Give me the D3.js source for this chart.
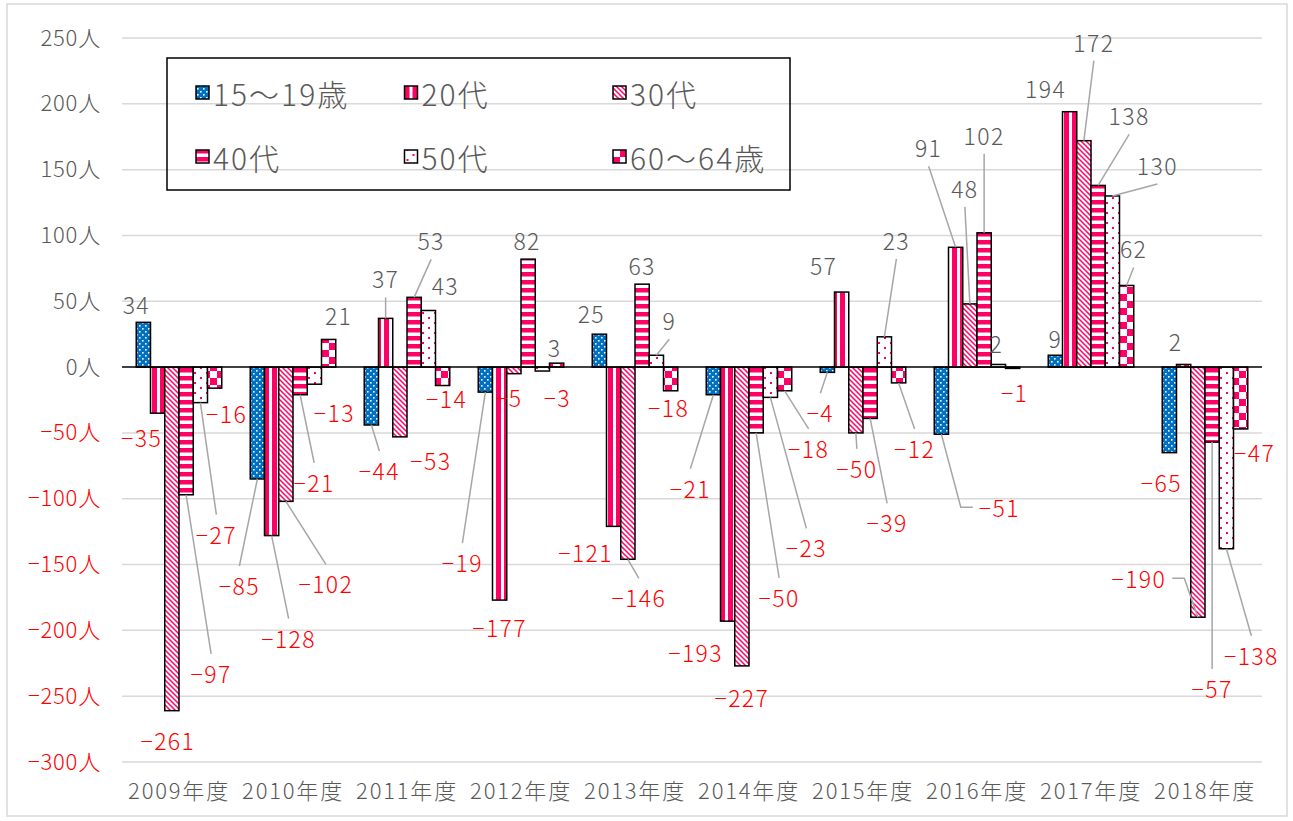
<!DOCTYPE html>
<html>
<head>
<meta charset="utf-8">
<script src="https://cdn.jsdelivr.net/npm/d3@7"></script>
<style>
  body { margin: 0; background: #fff; }
  text { font-family: "Noto Sans CJK JP", "Noto Sans", sans-serif; font-weight: 300; }
</style>
</head>
<body>
<div id="chart"></div>
<script>
// categories
var years = ["2009年度", "2010年度", "2011年度", "2012年度", "2013年度",
             "2014年度", "2015年度", "2016年度", "2017年度", "2018年度"];
var seriesNames = ["15～19歳", "20代", "30代", "40代", "50代", "60～64歳"];

// series values (persons, by fiscal year)
var age15to19 = [34, -85, -44, -19, 25, -21, -4, -51, 9, -65];
var age20s    = [-35, -128, 37, -177, -121, -193, 57, 91, 194, 2];
var age30s    = [-261, -102, -53, -5, -146, -227, -50, 48, 172, -190];
var age40s    = [-97, -21, 53, 82, 63, -50, -39, 102, 138, -57];
var age50s    = [-27, -13, 43, -3, 9, -23, 23, 2, 130, -138];
var age60to64 = [-16, 21, -14, 3, -18, -18, -12, -1, 62, -47];

var yTicks = [-300, -250, -200, -150, -100, -50, 0, 50, 100, 150, 200, 250];

// label placement: [dx, dy, leader] from the bar end, per year, per series
var labelLayout = [
	[[-7,-18,0], [-18,106,1], [8,45,1], [-23,170,1], [-8,-21,0], [-23,93,1], [-7,40,1], [58,73,1], [0,-17,0], [-8,29,0]],
	[[-16,24,0], [17,102,1], [0,-40,1], [0,27,0], [-28,26,0], [-32,31,0], [-18,-27,0], [-27,-100,1], [-24,-24,0], [-8,-23,0]],
	[[-4,29,0], [40,82,1], [31,23,0], [-5,23,0], [11,38,1], [0,31,0], [1,35,1], [-5,-116,1], [10,-99,1], [-59,-39,1]],
	[[25,178,1], [14,87,1], [17,-57,1], [-1,-19,0], [0,-19,0], [23,164,1], [17,104,1], [0,-98,1], [31,-70,1], [0,246,1]],
	[[16,131,1], [20,28,0], [17,-25,0], [15,26,0], [13,-35,1], [36,150,1], [12,-97,1], [-2,-21,0], [45,-31,1], [25,106,1]],
	[[12,25,0], [10,-24,0], [4,12,0], [-2,-16,0], [-2,16,0], [24,57,1], [16,65,1], [2,24,0], [7,-37,1], [14,23,0]]
];

var seriesValues = [age15to19, age20s, age30s, age40s, age50s, age60to64];

var width = 1293, height = 821;
var pink = "#FF0066", blue = "#0070C0", grey = "#595959", red = "#FF0000";

var svg = d3.select("#chart").append("svg")
	.attr("width", width)
	.attr("height", height);

// patterns
var defs = svg.append("defs");

var p0 = defs.append("pattern").attr("id", "pat0").attr("patternUnits", "userSpaceOnUse")
	.attr("width", 6).attr("height", 6);
p0.append("rect").attr("width", 6).attr("height", 6).attr("fill", blue);
p0.append("rect").attr("x", 1).attr("y", 1).attr("width", 1.6).attr("height", 1.6).attr("fill", "#fff");
p0.append("rect").attr("x", 4).attr("y", 4).attr("width", 1.6).attr("height", 1.6).attr("fill", "#fff");

var p1 = defs.append("pattern").attr("id", "pat1").attr("patternUnits", "userSpaceOnUse")
	.attr("width", 8).attr("height", 8);
p1.append("rect").attr("width", 8).attr("height", 8).attr("fill", "#fff");
p1.append("rect").attr("x", 0).attr("width", 5).attr("height", 8).attr("fill", pink);

var p2 = defs.append("pattern").attr("id", "pat2").attr("patternUnits", "userSpaceOnUse")
	.attr("width", 5).attr("height", 5);
p2.append("rect").attr("width", 5).attr("height", 5).attr("fill", "#fff");
p2.append("path").attr("d", "M-1,-1L6,6M-1,4L1,6M4,-1L6,1")
	.attr("stroke", pink).attr("stroke-width", 1.5);

var p3 = defs.append("pattern").attr("id", "pat3").attr("patternUnits", "userSpaceOnUse")
	.attr("width", 8).attr("height", 8);
p3.append("rect").attr("width", 8).attr("height", 8).attr("fill", "#fff");
p3.append("rect").attr("y", 0).attr("width", 8).attr("height", 4.5).attr("fill", pink);

var p4 = defs.append("pattern").attr("id", "pat4").attr("patternUnits", "userSpaceOnUse")
	.attr("width", 12).attr("height", 10);
p4.append("rect").attr("width", 12).attr("height", 10).attr("fill", "#fff");
p4.append("rect").attr("x", 2).attr("y", 2).attr("width", 2).attr("height", 2).attr("fill", pink);
p4.append("rect").attr("x", 8).attr("y", 7).attr("width", 2).attr("height", 2).attr("fill", pink);

var p5 = defs.append("pattern").attr("id", "pat5").attr("patternUnits", "userSpaceOnUse")
	.attr("width", 14).attr("height", 14);
p5.append("rect").attr("width", 14).attr("height", 14).attr("fill", "#fff");
p5.append("rect").attr("width", 7).attr("height", 7).attr("fill", pink);
p5.append("rect").attr("x", 7).attr("y", 7).attr("width", 7).attr("height", 7).attr("fill", pink);

// outer frame
svg.append("rect")
	.attr("x", 7).attr("y", 4).attr("width", 1280).attr("height", 812)
	.attr("fill", "none").attr("stroke", "#D9D9D9").attr("stroke-width", 1.5);

// scales
var x0 = d3.scaleBand().domain(years).range([122, 1262]).paddingInner(0.25).paddingOuter(0.125);
var x1 = d3.scaleBand().domain(d3.range(seriesNames.length)).range([0, x0.bandwidth()]);
var y = d3.scaleLinear().domain([-300, 250]).range([762, 38]);

// gridlines
svg.append("g").selectAll("line")
	.data(yTicks.filter(function(d) { return d !== 0; }))
	.enter().append("line")
	.attr("x1", 122).attr("x2", 1262)
	.attr("y1", function(d) { return y(d); })
	.attr("y2", function(d) { return y(d); })
	.attr("stroke", "#D9D9D9").attr("stroke-width", 1.5);

// y axis labels
var yAxis = svg.append("g")
	.attr("transform", "translate(122,0)")
	.call(d3.axisLeft(y).tickValues(yTicks).tickSize(0).tickPadding(21)
		.tickFormat(function(d) { return (d < 0 ? "−" + (-d) : d) + "人"; }));
yAxis.select(".domain").remove();
yAxis.selectAll(".tick text")
	.attr("font-size", 22)
	.attr("font-family", null)
	.attr("letter-spacing", 0.8)
	.attr("fill", function(d) { return d < 0 ? red : grey; });

// x axis labels
var xAxis = svg.append("g")
	.attr("transform", "translate(0," + y(-300) + ")")
	.call(d3.axisBottom(x0).tickSize(0).tickPadding(21));
xAxis.select(".domain").remove();
xAxis.selectAll(".tick text")
	.attr("font-size", 22)
	.attr("font-family", null)
	.attr("letter-spacing", 1.8)
	.attr("fill", grey);

// bars
var rows = [];
seriesValues.forEach(function(vals, s) {
	vals.forEach(function(v, i) {
		rows.push({s: s, year: years[i], i: i, value: v});
	});
});

svg.append("g").selectAll(".bar")
	.data(rows)
	.enter().append("rect")
	.attr("class", "bar")
	.attr("x", function(d) { return x0(d.year) + x1(d.s); })
	.attr("width", x1.bandwidth())
	.attr("y", function(d) { return y(Math.max(0, d.value)); })
	.attr("height", function(d) { return Math.abs(y(d.value) - y(0)); })
	.attr("fill", function(d) { return "url(#pat" + d.s + ")"; })
	.attr("stroke", "#000").attr("stroke-width", 1.5);

// zero line
svg.append("line")
	.attr("x1", 122).attr("x2", 1262)
	.attr("y1", y(0)).attr("y2", y(0))
	.attr("stroke", "#000").attr("stroke-width", 1.5);

// data labels with leader lines
var leaderG = svg.append("g");
var labelG = svg.append("g");

rows.forEach(function(d) {
	var lay = labelLayout[d.s][d.i];
	var ax = x0(d.year) + x1(d.s) + x1.bandwidth() / 2;
	var ay = y(d.value);
	var lx = ax + lay[0], ly = ay + lay[1];
	var t = labelG.append("text")
		.attr("x", lx).attr("y", ly)
		.attr("text-anchor", "middle")
		.attr("dominant-baseline", "central")
		.attr("font-size", 23)
		.attr("letter-spacing", 1.4)
		.attr("fill", d.value < 0 ? red : grey)
		.text(d.value < 0 ? "−" + (-d.value) : d.value);
	if (!lay[2]) return;
	var hw = t.node().getComputedTextLength() / 2;
	var pts;
	if (ax < lx - hw - 30 || ax > lx + hw + 30) {
		var side = ax < lx ? -1 : 1;
		pts = [[ax, ay], [lx + side * (hw + 18), ly], [lx + side * (hw + 6), ly]];
	} else {
		var ey = ay < ly ? ly - 19 : ly + 19;
		pts = [[ax, ay], [lx, ey]];
	}
	leaderG.append("path")
		.attr("d", d3.line()(pts))
		.attr("fill", "none")
		.attr("stroke", "#A6A6A6").attr("stroke-width", 1.5);
});

// legend
var legend = svg.append("g");
legend.append("rect")
	.attr("x", 167).attr("y", 58).attr("width", 623).attr("height", 132)
	.attr("fill", "none").attr("stroke", "#000").attr("stroke-width", 1.5);

var item = legend.selectAll(".item")
	.data(seriesNames)
	.enter().append("g")
	.attr("transform", function(d, i) {
		return "translate(" + (196 + (i % 3) * 208.5) + "," + (93 + Math.floor(i / 3) * 64) + ")";
	});
item.append("rect")
	.attr("x", 0).attr("y", -7).attr("width", 13).attr("height", 13)
	.attr("fill", function(d, i) { return "url(#pat" + i + ")"; })
	.attr("stroke", "#000").attr("stroke-width", 1.5);
item.append("text")
	.attr("x", 17).attr("y", 0)
	.attr("dominant-baseline", "central")
	.attr("font-size", 30)
	.attr("letter-spacing", 2)
	.attr("fill", grey)
	.text(function(d) { return d; });
</script>
</body>
</html>
